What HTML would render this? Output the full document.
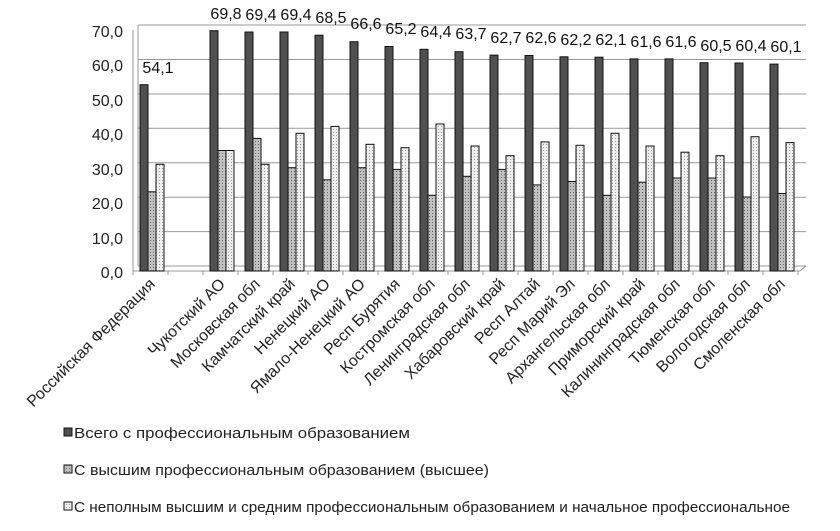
<!DOCTYPE html>
<html><head><meta charset="utf-8"><style>
body{margin:0;background:#fff}
svg{display:block;font-family:"Liberation Sans",Arial,sans-serif}
</style></head><body>
<svg width="840" height="531" viewBox="0 0 840 531" xmlns="http://www.w3.org/2000/svg">
<defs>
<pattern id="p2" width="3" height="3" patternUnits="userSpaceOnUse"><rect width="3" height="3" fill="#c0c0c0"/><rect width="1" height="1" fill="#666"/></pattern>
<pattern id="p3" width="3" height="3" patternUnits="userSpaceOnUse"><rect width="3" height="3" fill="#eeeeee"/><rect width="1" height="1" fill="#999"/></pattern>
</defs>
<g stroke="#999" stroke-width="1">
<line x1="138" y1="25" x2="806" y2="25"/>
<line x1="138" y1="59.5" x2="806" y2="59.5"/>
<line x1="138" y1="94" x2="806" y2="94"/>
<line x1="138" y1="128.3" x2="806" y2="128.3"/>
<line x1="138" y1="162.7" x2="806" y2="162.7"/>
<line x1="138" y1="197.2" x2="806" y2="197.2"/>
<line x1="138" y1="231.6" x2="806" y2="231.6"/>
<line x1="138" y1="266" x2="806" y2="266"/>
<line x1="133" y1="30" x2="133" y2="271"/>
<line x1="138" y1="25" x2="138" y2="266"/>
<line x1="133" y1="271" x2="800" y2="271"/>
<line x1="800" y1="271" x2="806" y2="266"/>
</g>
<g stroke="#999">
<line x1="133" y1="271" x2="133" y2="275"/><line x1="168" y1="271" x2="168" y2="275"/><line x1="203" y1="271" x2="203" y2="275"/><line x1="238" y1="271" x2="238" y2="275"/><line x1="273" y1="271" x2="273" y2="275"/><line x1="308" y1="271" x2="308" y2="275"/><line x1="343" y1="271" x2="343" y2="275"/><line x1="378" y1="271" x2="378" y2="275"/><line x1="413" y1="271" x2="413" y2="275"/><line x1="448" y1="271" x2="448" y2="275"/><line x1="483" y1="271" x2="483" y2="275"/><line x1="518" y1="271" x2="518" y2="275"/><line x1="553" y1="271" x2="553" y2="275"/><line x1="588" y1="271" x2="588" y2="275"/><line x1="623" y1="271" x2="623" y2="275"/><line x1="658" y1="271" x2="658" y2="275"/><line x1="693" y1="271" x2="693" y2="275"/><line x1="728" y1="271" x2="728" y2="275"/><line x1="763" y1="271" x2="763" y2="275"/><line x1="798" y1="271" x2="798" y2="275"/>
</g>
<g font-size="16" fill="#222" text-anchor="end">
<text x="123" y="37">70,0</text><text x="123" y="71">60,0</text><text x="123" y="106">50,0</text><text x="123" y="140">40,0</text><text x="123" y="175">30,0</text><text x="123" y="209">20,0</text><text x="123" y="244">10,0</text><text x="123" y="278">0,0</text>
</g>
<g stroke="#111" stroke-width="1">
<g fill="#505050">
<rect x="140" y="84.7" width="8" height="186.3"/>
<rect x="210" y="30.7" width="8" height="240.3"/>
<rect x="245" y="32" width="8" height="239"/>
<rect x="280" y="32" width="8" height="239"/>
<rect x="315" y="35.2" width="8" height="235.8"/>
<rect x="350" y="41.7" width="8" height="229.3"/>
<rect x="385" y="46.5" width="8" height="224.5"/>
<rect x="420" y="49.3" width="8" height="221.7"/>
<rect x="455" y="51.7" width="8" height="219.3"/>
<rect x="490" y="55.1" width="8" height="215.9"/>
<rect x="525" y="55.5" width="8" height="215.5"/>
<rect x="560" y="56.8" width="8" height="214.2"/>
<rect x="595" y="57.2" width="8" height="213.8"/>
<rect x="630" y="58.9" width="8" height="212.1"/>
<rect x="665" y="58.9" width="8" height="212.1"/>
<rect x="700" y="62.7" width="8" height="208.3"/>
<rect x="735" y="63" width="8" height="208"/>
<rect x="770" y="64.1" width="8" height="206.9"/>
</g>
<g fill="url(#p2)">
<rect x="148" y="191.8" width="8" height="79.2"/>
<rect x="218" y="150.5" width="8" height="120.5"/>
<rect x="253" y="138.4" width="8" height="132.6"/>
<rect x="288" y="167.7" width="8" height="103.3"/>
<rect x="323" y="179.8" width="8" height="91.2"/>
<rect x="358" y="167.7" width="8" height="103.3"/>
<rect x="393" y="169.4" width="8" height="101.6"/>
<rect x="428" y="195.3" width="8" height="75.7"/>
<rect x="463" y="176.3" width="8" height="94.7"/>
<rect x="498" y="169.4" width="8" height="101.6"/>
<rect x="533" y="184.9" width="8" height="86.1"/>
<rect x="568" y="181.5" width="8" height="89.5"/>
<rect x="603" y="195.3" width="8" height="75.7"/>
<rect x="638" y="182.2" width="8" height="88.8"/>
<rect x="673" y="178" width="8" height="93"/>
<rect x="708" y="178" width="8" height="93"/>
<rect x="743" y="197" width="8" height="74"/>
<rect x="778" y="193.5" width="8" height="77.5"/>
</g>
<g fill="url(#p3)">
<rect x="156" y="164.3" width="8" height="106.7"/>
<rect x="226" y="150.5" width="8" height="120.5"/>
<rect x="261" y="164.3" width="8" height="106.7"/>
<rect x="296" y="133.3" width="8" height="137.7"/>
<rect x="331" y="126.4" width="8" height="144.6"/>
<rect x="366" y="144.3" width="8" height="126.7"/>
<rect x="401" y="147.7" width="8" height="123.3"/>
<rect x="436" y="124" width="8" height="147"/>
<rect x="471" y="146" width="8" height="125"/>
<rect x="506" y="155.7" width="8" height="115.3"/>
<rect x="541" y="141.9" width="8" height="129.1"/>
<rect x="576" y="145.3" width="8" height="125.7"/>
<rect x="611" y="133.3" width="8" height="137.7"/>
<rect x="646" y="146" width="8" height="125"/>
<rect x="681" y="152.2" width="8" height="118.8"/>
<rect x="716" y="155.7" width="8" height="115.3"/>
<rect x="751" y="136.7" width="8" height="134.3"/>
<rect x="786" y="142.6" width="8" height="128.4"/>
</g>
</g>
<g font-size="16" fill="#111" text-anchor="middle">
<text x="158" y="73">54,1</text>
<text x="226" y="19">69,8</text><text x="261" y="20">69,4</text><text x="296" y="20">69,4</text><text x="331" y="23">68,5</text><text x="366" y="29">66,6</text><text x="401" y="34">65,2</text><text x="436" y="37">64,4</text><text x="471" y="39">63,7</text><text x="506" y="43">62,7</text><text x="541" y="43">62,6</text><text x="576" y="45">62,2</text><text x="611" y="45">62,1</text><text x="646" y="47">61,6</text><text x="681" y="47">61,6</text><text x="716" y="51">60,5</text><text x="751" y="51">60,4</text><text x="786" y="52">60,1</text>
</g>
<g font-size="16" fill="#222" text-anchor="end">
<text transform="translate(156,285) rotate(-45)">Российская Федерация</text>
<text transform="translate(226,285) rotate(-45)">Чукотский  АО</text>
<text transform="translate(261,285) rotate(-45)">Московская обл</text>
<text transform="translate(296,285) rotate(-45)">Камчатский край</text>
<text transform="translate(331,285) rotate(-45)">Ненецкий АО</text>
<text transform="translate(366,285) rotate(-45)">Ямало-Ненецкий АО</text>
<text transform="translate(401,285) rotate(-45)">Респ Бурятия</text>
<text transform="translate(436,285) rotate(-45)">Костромская обл</text>
<text transform="translate(471,285) rotate(-45)">Ленинградская обл</text>
<text transform="translate(506,285) rotate(-45)">Хабаровский край</text>
<text transform="translate(541,285) rotate(-45)">Респ Алтай</text>
<text transform="translate(576,285) rotate(-45)">Респ Марий Эл</text>
<text transform="translate(611,285) rotate(-45)">Архангельская обл</text>
<text transform="translate(646,285) rotate(-45)">Приморский край</text>
<text transform="translate(681,285) rotate(-45)">Калининградская обл</text>
<text transform="translate(716,285) rotate(-45)">Тюменская обл</text>
<text transform="translate(751,285) rotate(-45)">Вологодская обл</text>
<text transform="translate(786,285) rotate(-45)">Смоленская обл</text>
</g>
<g stroke="#111" stroke-width="1">
<rect x="64" y="428" width="8" height="8" fill="#505050"/>
<rect x="64" y="465" width="8" height="8" fill="url(#p2)"/>
<rect x="64" y="502" width="8" height="8" fill="url(#p3)"/>
</g>
<g font-size="15" fill="#222">
<text x="74" y="438" textLength="336" lengthAdjust="spacingAndGlyphs">Всего  с профессиональным образованием</text>
<text x="74" y="475" textLength="415" lengthAdjust="spacingAndGlyphs">С высшим профессиональным образованием (высшее)</text>
<text x="74" y="512" textLength="716" lengthAdjust="spacingAndGlyphs">С неполным высшим и средним профессиональным образованием  и начальное профессиональное</text>
</g>
</svg>
</body></html>
